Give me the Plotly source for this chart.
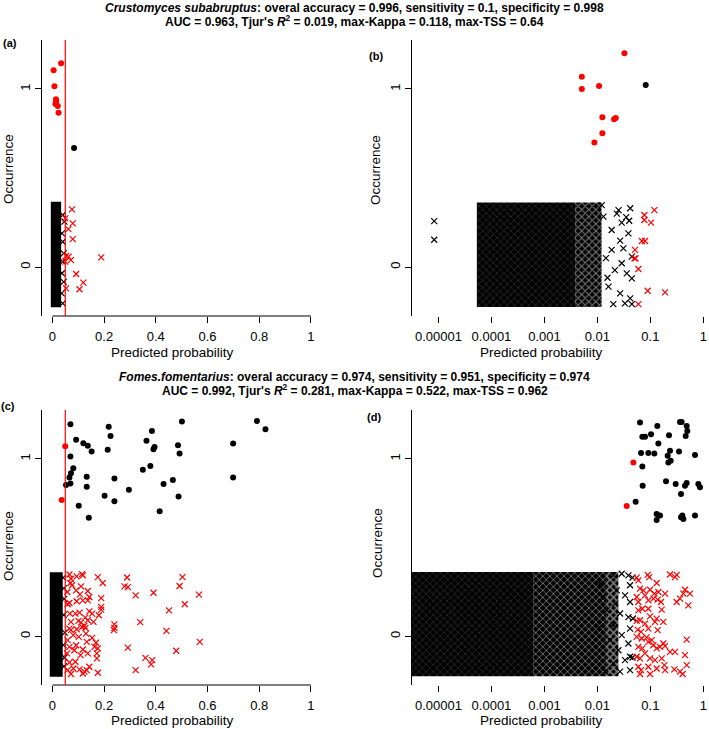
import math
import plotly.graph_objects as go

W, H = 709, 729
THRESHOLD = 0.05

# ---------------- data ----------------
# panel (a): Crustomyces, linear x
a_pres_red_x = [0.034, 0.005, 0.008, 0.014, 0.015, 0.012, 0.021, 0.024]
a_pres_red_y = [1.144, 1.105, 1.015, 0.942, 0.930, 0.916, 0.904, 0.867]
a_pres_blk_x = [0.084]
a_pres_blk_y = [0.669]
a_abs_red_x = [0.076, 0.050, 0.079, 0.062, 0.079, 0.053, 0.063, 0.072, 0.050, 0.189, 0.092, 0.120, 0.105, 0.053]
a_abs_red_y = [0.324, 0.273, 0.245, 0.213, 0.157, 0.062, 0.058, 0.039, 0.030, 0.054, -0.039, -0.088, -0.125, -0.120]
a_abs_blk_x = [0.040, 0.047, 0.037, 0.040, 0.044, 0.040, 0.037, 0.044, 0.036, 0.040]
a_abs_blk_y = [0.292, 0.255, 0.189, 0.142, 0.077, 0.030, -0.035, -0.083, -0.148, -0.204]
# dense cloud of absences (too many points to read one by one)
a_cloud_edges = [-0.006, 0.034]
a_cloud_density = [1.0]
a_cloud_y = [-0.226, 0.367]

# panel (b): Crustomyces, log x
b_pres_red_x = [0.0324, 0.00508, 0.00508, 0.01076, 0.01242, 0.02065, 0.02223, 0.01242, 0.00877]
b_pres_red_y = [1.200, 1.069, 1.000, 1.017, 0.841, 0.830, 0.837, 0.751, 0.699]
b_pres_blk_x = [0.0818]
b_pres_blk_y = [1.022]
b_abs_red_x = [0.0771, 0.1189, 0.0771, 0.1030, 0.0692, 0.0794, 0.0513, 0.0501, 0.0525, 0.0594, 0.0891, 0.1892, 0.0594]
b_abs_red_y = [0.292, 0.320, 0.264, 0.249, 0.146, 0.146, 0.096, 0.049, 0.049, -0.011, -0.133, -0.142, -0.208]
b_abs_blk_x = [0.0121, 0.0251, 0.0417, 0.0288, 0.0398, 0.0186, 0.0269, 0.0385, 0.0186, 0.0309,
               0.0447, 0.0288, 0.0214, 0.0359, 0.0447, 0.0162, 0.0269, 0.0417, 0.0331, 0.0200,
               0.0447, 0.0130, 0.0145, 0.0233, 0.0155, 0.0350, 8.3e-6, 8.3e-6]
b_abs_blk_y = [0.348, 0.320, 0.330, 0.249, 0.260, 0.208, 0.148, 0.189, 0.096, 0.105,
               0.058, 0.021, -0.017, -0.036, -0.064, -0.110, -0.148, -0.176, -0.204, -0.208,
               -0.208, 0.283, 0.050, 0.300, -0.060, 0.280, 0.258, 0.153]
b_cloud_edges = [5.3e-5, 0.0038, 0.012]
b_cloud_density = [0.9, 0.65]
b_cloud_y = [-0.225, 0.362]

# panel (c): Fomes, linear x
c_pres_red_x = [0.050, 0.036]
c_pres_red_y = [1.071, 0.768]
c_pres_blk_x = [0.070, 0.218, 0.225, 0.092, 0.120, 0.137, 0.152, 0.070, 0.214, 0.081,
                0.072, 0.066, 0.070, 0.053, 0.133, 0.133, 0.102, 0.141, 0.202, 0.240,
                0.240, 0.296, 0.385, 0.364, 0.395, 0.391, 0.350, 0.379, 0.430, 0.466,
                0.415, 0.501, 0.486, 0.492, 0.488, 0.699, 0.699, 0.791, 0.824]
c_pres_blk_y = [1.195, 1.180, 1.129, 1.107, 1.088, 1.073, 1.041, 1.013, 1.051, 0.946,
                0.918, 0.895, 0.861, 0.852, 0.899, 0.843, 0.736, 0.667, 0.792, 0.889,
                0.760, 0.826, 1.157, 1.101, 1.067, 1.054, 0.938, 0.959, 0.858, 0.880,
                0.704, 1.210, 1.077, 1.030, 0.788, 1.086, 0.895, 1.213, 1.167]
c_abs_red_x = [0.066, 0.072, 0.094, 0.115, 0.118, 0.070, 0.076, 0.111, 0.176, 0.195,
               0.289, 0.292, 0.279, 0.503, 0.492, 0.058, 0.092, 0.107, 0.137, 0.143,
               0.094, 0.066, 0.059, 0.118, 0.137, 0.189, 0.189, 0.189, 0.180, 0.322,
               0.391, 0.567, 0.512, 0.451, 0.068, 0.089, 0.105, 0.127, 0.143, 0.154,
               0.072, 0.101, 0.111, 0.137, 0.159, 0.340, 0.240, 0.240, 0.238, 0.441,
               0.066, 0.072, 0.094, 0.115, 0.124, 0.128, 0.081, 0.102, 0.130, 0.154,
               0.169, 0.163, 0.176, 0.059, 0.066, 0.092, 0.118, 0.133, 0.172, 0.292,
               0.479, 0.570, 0.057, 0.085, 0.109, 0.137, 0.172, 0.360, 0.386, 0.382,
               0.066, 0.089, 0.059, 0.081, 0.105, 0.118, 0.124, 0.133, 0.143, 0.176,
               0.322, 0.072]
c_abs_red_y = [0.348, 0.324, 0.337, 0.350, 0.343, 0.300, 0.287, 0.281, 0.333, 0.300,
               0.331, 0.277, 0.281, 0.333, 0.283, 0.249, 0.258, 0.236, 0.255, 0.221,
               0.197, 0.187, 0.180, 0.202, 0.202, 0.215, 0.165, 0.150, 0.118, 0.230,
               0.245, 0.234, 0.180, 0.146, 0.127, 0.127, 0.133, 0.105, 0.140, 0.127,
               0.081, 0.086, 0.077, 0.090, 0.081, 0.079, 0.067, 0.047, 0.034, 0.030,
               0.043, 0.034, 0.039, 0.052, 0.058, 0.047, 0.006, -0.004, 0.015, -0.009,
               -0.037, -0.060, -0.069, -0.022, -0.060, -0.051, -0.075, -0.032, -0.097, -0.064,
               -0.082, -0.032, -0.097, -0.079, -0.107, -0.097, -0.125, -0.122, -0.135, -0.159,
               -0.148, -0.144, -0.191, -0.182, -0.187, -0.210, -0.200, -0.191, -0.172, -0.206,
               -0.191, -0.213]
c_abs_blk_x = [0.042, 0.046, 0.044, 0.048, 0.043, 0.047, 0.045, 0.044]
c_abs_blk_y = [0.330, 0.210, 0.120, 0.020, -0.050, -0.120, -0.170, 0.270]
c_cloud_edges = [-0.010, 0.040]
c_cloud_density = [1.0]
c_cloud_y = [-0.228, 0.361]

# panel (d): Fomes, log x
d_pres_red_x = [0.0478, 0.0357]
d_pres_red_y = [0.979, 0.734]
d_pres_blk_x = [0.0638, 0.0706, 0.0793, 0.1030, 0.1355, 0.1416, 0.2249, 0.3631, 0.3899, 0.4853,
                0.4989, 0.4645, 0.0667, 0.0916, 0.1189, 0.2123, 0.2188, 0.2421, 0.2350, 0.3475,
                0.6966, 0.0706, 0.0716, 0.1977, 0.3006, 0.3793, 0.4508, 0.4853, 0.8054, 0.8650,
                0.0528, 0.1315, 0.1521, 0.1315, 0.3793, 0.4198, 0.4018, 0.6966]
d_pres_blk_y = [1.204, 1.124, 1.124, 1.139, 1.185, 1.086, 1.133, 1.208, 1.208, 1.185,
                1.157, 1.129, 1.032, 1.032, 1.030, 1.017, 0.979, 0.989, 1.045, 1.041,
                1.021, 0.957, 0.848, 0.873, 0.858, 0.801, 0.848, 0.863, 0.858, 0.839,
                0.758, 0.689, 0.680, 0.655, 0.670, 0.661, 0.680, 0.680]
d_abs_red_x = [0.0552, 0.0594, 0.0891, 0.0957, 0.2350, 0.3141, 0.2917, 0.0638, 0.0738, 0.0986,
               0.1315, 0.1416, 0.1189, 0.1892, 0.0552, 0.0793, 0.1140, 0.0594, 0.0916, 0.1374,
               0.1589, 0.4508, 0.4198, 0.5598, 0.3141, 0.3631, 0.5212, 0.0594, 0.0706, 0.0916,
               0.1637, 0.0986, 0.0552, 0.0638, 0.0793, 0.1225, 0.1315, 0.1758, 0.0577, 0.0667,
               0.0916, 0.1374, 0.0552, 0.0685, 0.0853, 0.1059, 0.1140, 0.1315, 0.1521, 0.1758,
               0.1892, 0.0916, 0.0594, 0.0706, 0.0793, 0.0552, 0.0638, 0.0986, 0.1225, 0.1637,
               0.2350, 0.2917, 0.4853, 0.4508, 0.0594, 0.0667, 0.0916, 0.1315, 0.1837, 0.1892,
               0.2838, 0.3631, 0.4074, 0.4853, 0.0986, 0.0638]
d_abs_red_y = [0.330, 0.315, 0.346, 0.333, 0.348, 0.346, 0.333, 0.268, 0.258, 0.262,
               0.300, 0.249, 0.240, 0.240, 0.221, 0.230, 0.212, 0.193, 0.202, 0.206,
               0.193, 0.262, 0.240, 0.240, 0.193, 0.212, 0.174, 0.146, 0.155, 0.155,
               0.150, 0.112, 0.086, 0.090, 0.071, 0.081, 0.099, 0.081, 0.037, 0.024,
               0.043, 0.034, -0.004, -0.013, -0.007, -0.022, -0.051, -0.069, -0.060, -0.041,
               -0.056, -0.032, -0.060, -0.069, -0.097, -0.116, -0.125, -0.125, -0.135, -0.125,
               -0.088, -0.088, -0.019, -0.107, -0.172, -0.191, -0.172, -0.182, -0.163, -0.191,
               -0.187, -0.200, -0.213, -0.163, -0.213, -0.213]
d_abs_blk_x = [0.0200, 0.0288, 0.0385, 0.0414, 0.0232, 0.0333, 0.0414, 0.0216, 0.0150, 0.0268,
               0.0385, 0.0200, 0.0414, 0.0288, 0.0174, 0.0385, 0.0249, 0.0414, 0.0333, 0.0200,
               0.0414, 0.0268, 0.0140, 0.0112, 0.0129, 0.0107, 0.0460, 0.0470, 0.0460]
d_abs_blk_y = [0.343, 0.352, 0.343, 0.287, 0.258, 0.230, 0.193, 0.184, 0.146, 0.128,
               0.108, 0.062, 0.043, 0.006, -0.022, -0.041, -0.079, -0.116, -0.135, -0.153,
               -0.191, -0.200, -0.200, 0.296, 0.220, 0.050, 0.330, 0.100, -0.120]
d_cloud_edges = [2.0e-6, 6.3e-4, 0.0151, 0.025]
d_cloud_density = [0.9, 0.7, 0.5]
d_cloud_y = [-0.225, 0.362]

lin_ticks = [0, 0.2, 0.4, 0.6, 0.8, 1]
lin_labels = ["0", "0.2", "0.4", "0.6", "0.8", "1"]
log_ticks = [1e-5, 1e-4, 1e-3, 1e-2, 1e-1, 1]
log_labels = ["0.00001", "0.0001", "0.001", "0.01", "0.1", "1"]
y_ticks = [0, 1]

title_top = ["<b><i>Crustomyces subabruptus</i>: overal accuracy = 0.996, sensitivity = 0.1, specificity = 0.998</b>",
             "<b>AUC = 0.963, Tjur's <i>R</i><sup>2</sup> = 0.019, max-Kappa = 0.118, max-TSS = 0.64</b>"]
title_bottom = ["<b><i>Fomes.fomentarius</i>: overal accuracy = 0.974, sensitivity = 0.951, specificity = 0.974</b>",
                "<b>AUC = 0.992, Tjur's <i>R</i><sup>2</sup> = 0.281, max-Kappa = 0.522, max-TSS = 0.962</b>"]

FONT = "Liberation Sans, Arial, sans-serif"
NARROW = "Liberation Sans Narrow, Arial Narrow, Liberation Sans, sans-serif"


def px(x):
    return x / W


def py(y):
    return 1 - y / H


fig = go.Figure()


def add_cloud(edges, density, ylim, xa, ya):
    # black block with white cross-hatching: the less dense, the thicker the white lines
    for x0, x1, d in zip(edges[:-1], edges[1:], density):
        tr = go.Scatter(x=[x0, x1, x1, x0, x0], y=[ylim[0], ylim[0], ylim[1], ylim[1], ylim[0]],
                        mode="lines", line=dict(width=0), fill="toself", fillcolor="black",
                        hoverinfo="skip", xaxis=xa, yaxis=ya)
        if d < 1:
            tr.fillpattern = dict(shape="x", size=5, solidity=1 - d, fgcolor="white", bgcolor="black")
        fig.add_trace(tr)


def add_points(x, y, symbol, color, xa, ya):
    if symbol == "x":
        marker = dict(symbol="x-thin", size=6, line=dict(width=1.2, color=color))
    else:
        marker = dict(symbol="circle", size=6, color=color, line=dict(width=0))
    fig.add_trace(go.Scatter(x=x, y=y, mode="markers", marker=marker, xaxis=xa, yaxis=ya,
                             hoverinfo="x+y"))


panels = [
    ("x", "y", a_cloud_edges, a_cloud_density, a_cloud_y, a_abs_blk_x, a_abs_blk_y, a_abs_red_x, a_abs_red_y,
     a_pres_blk_x, a_pres_blk_y, a_pres_red_x, a_pres_red_y),
    ("x2", "y2", b_cloud_edges, b_cloud_density, b_cloud_y, b_abs_blk_x, b_abs_blk_y, b_abs_red_x, b_abs_red_y,
     b_pres_blk_x, b_pres_blk_y, b_pres_red_x, b_pres_red_y),
    ("x3", "y3", c_cloud_edges, c_cloud_density, c_cloud_y, c_abs_blk_x, c_abs_blk_y, c_abs_red_x, c_abs_red_y,
     c_pres_blk_x, c_pres_blk_y, c_pres_red_x, c_pres_red_y),
    ("x4", "y4", d_cloud_edges, d_cloud_density, d_cloud_y, d_abs_blk_x, d_abs_blk_y, d_abs_red_x, d_abs_red_y,
     d_pres_blk_x, d_pres_blk_y, d_pres_red_x, d_pres_red_y),
]

for xa, ya, ce, cd, cy, abx, aby, arx, ary, pbx, pby, prx, pry in panels:
    add_cloud(ce, cd, cy, xa, ya)
    add_points(abx, aby, "x", "black", xa, ya)
    add_points(arx, ary, "x", "red", xa, ya)
    add_points(pbx, pby, "o", "black", xa, ya)
    add_points(prx, pry, "o", "red", xa, ya)

# layout of the four panels (pixel positions of the original figure)
xdom_left = [px(42), px(321.3)]
xdom_right = [px(412), px(706.5)]
ydom_top = [py(316), py(40)]
ydom_bot = [py(685), py(410)]
yrange = [-0.275, 1.275]
lin_range = [-0.04, 1.04]
log_range = [-5.5, 0.06]

tickfont = dict(family=FONT, size=13, color="black")
common_x = dict(showgrid=False, zeroline=False, showline=False, ticks="outside", ticklen=6,
                tickcolor="black", tickfont=tickfont, ticklabelstandoff=2)
common_y = dict(showgrid=False, zeroline=False, showline=True, linecolor="black", linewidth=1,
                ticks="outside", ticklen=6, tickcolor="black", tickfont=tickfont,
                tickvals=y_ticks, ticktext=["0", "1"], tickangle=-90, range=yrange)

layout = dict(
    width=W, height=H, margin=dict(l=0, r=0, t=0, b=0),
    plot_bgcolor="white", paper_bgcolor="white", showlegend=False,
    font=dict(family=FONT, color="black"),
)
axes_spec = [("", xdom_left, ydom_top, False), ("2", xdom_right, ydom_top, True),
             ("3", xdom_left, ydom_bot, False), ("4", xdom_right, ydom_bot, True)]
shapes = []
for n, xd, yd, is_log in axes_spec:
    xk = dict(common_x, domain=xd, anchor="y" + n)
    if is_log:
        xk.update(type="log", range=log_range, tickvals=log_ticks, ticktext=log_labels)
        line_x = [log_range[0], 0]
        thr = math.log10(THRESHOLD)
    else:
        xk.update(range=lin_range, tickvals=lin_ticks, ticktext=lin_labels)
        line_x = [lin_ticks[0], lin_ticks[-1]]
        thr = THRESHOLD
    layout["xaxis" + n] = xk
    layout["yaxis" + n] = dict(common_y, domain=yd, anchor="x" + n)
    # R style x axis line running between the extreme ticks
    shapes.append(dict(type="line", xref="x" + n, yref="y" + n + " domain", x0=line_x[0], x1=line_x[1],
                       y0=0, y1=0, line=dict(color="black", width=1)))
    # classification threshold
    shapes.append(dict(type="line", xref="x" + n, yref="y" + n + " domain", x0=thr, x1=thr,
                       y0=0, y1=1, line=dict(color="red", width=1.2)))
layout["shapes"] = shapes

ann = []


def text(x, y, s, size, family=FONT, angle=0):
    ann.append(dict(x=px(x), y=py(y), xref="paper", yref="paper", text=s, showarrow=False,
                    xanchor="center", yanchor="middle", textangle=angle,
                    font=dict(family=family, size=size, color="black")))


text(354.5, 7.5, title_top[0], 12, NARROW)
text(354.5, 20.5, title_top[1], 12, NARROW)
text(354.5, 377, title_bottom[0], 12, NARROW)
text(354.5, 390, title_bottom[1], 12, NARROW)

for lab, x, y in [("(a)", 10, 43), ("(b)", 376, 56), ("(c)", 8, 406), ("(d)", 374, 417)]:
    text(x, y, "<b>" + lab + "</b>", 11)
for x, y in [(8, 169), (376, 170), (8, 546), (377, 543)]:
    text(x, y, "Occurrence", 13.5, angle=-90)
for x, y in [(172, 352), (541, 352), (172, 720), (541, 720)]:
    text(x, y, "Predicted probability", 13.5)
layout["annotations"] = ann

fig.update_layout(**layout)
fig.write_html("out.html", config={"displayModeBar": False},
               post_script="document.body.style.margin='0';")
